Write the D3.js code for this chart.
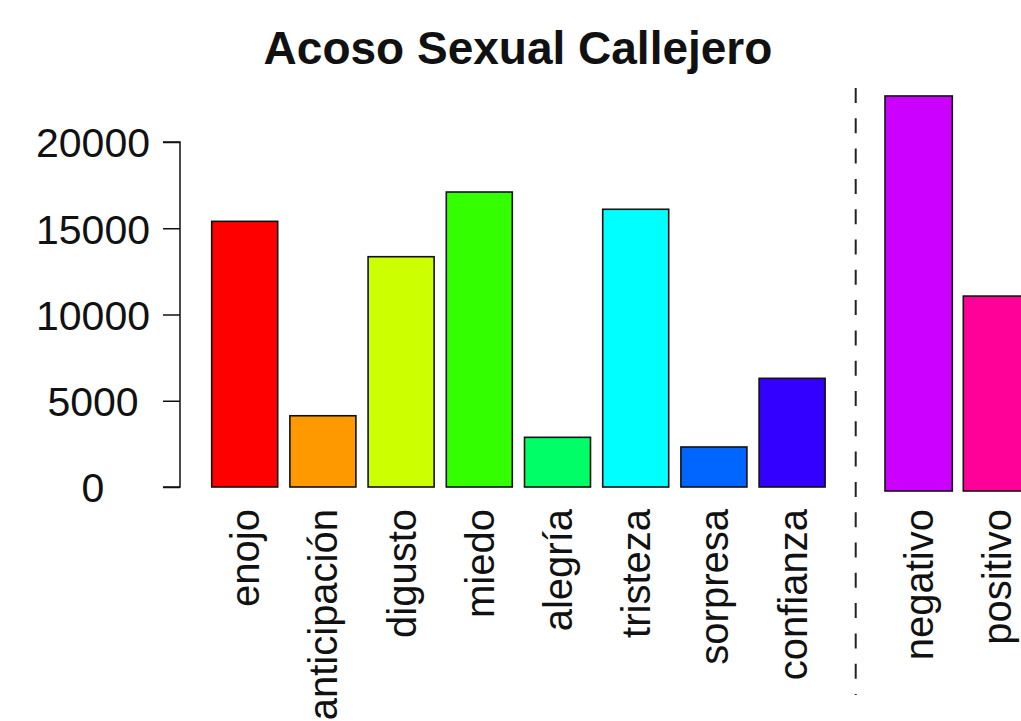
<!DOCTYPE html>
<html>
<head>
<meta charset="utf-8">
<script src="https://cdn.jsdelivr.net/npm/d3@7"></script>
<style>
  html, body { margin: 0; padding: 0; background: #fff; }
  svg { display: block; font-family: "Liberation Sans", Arial, sans-serif; }
</style>
</head>
<body>
<svg id="chart" width="1021" height="721"></svg>
<script>
// ---- data ----
const title = "Acoso Sexual Callejero";
const emotions = ["enojo", "anticipación", "digusto", "miedo", "alegría", "tristeza", "sorpresa", "confianza"];
const emotionValues = [15400, 4130, 13350, 17100, 2880, 16100, 2320, 6300];
const emotionColors = ["#FF0000", "#FF9900", "#CCFF00", "#33FF00", "#00FF66", "#00FFFF", "#0066FF", "#3300FF"];
const sentiments = ["negativo", "positivo"];
const sentimentValues = [22900, 11300];
const sentimentColors = ["#CC00FF", "#FF0099"];
const yTicks = [0, 5000, 10000, 15000, 20000];

// ---- layout ----
const svg = d3.select("#chart");
const fontSize = 40;

const yL = d3.scaleLinear().domain([0, 20000]).range([487, 142]);
const yR = d3.scaleLinear().domain([0, 20000]).range([491, 146]);

const xL = d3.scaleBand().domain(emotions)
  .range([211.7, 211.7 + 7 * 78.2 + 66]).paddingInner(12.2 / 78.2).paddingOuter(0);
const xR = d3.scaleBand().domain(sentiments)
  .range([885, 885 + 78.3 + 67.3]).paddingInner(11 / 78.3).paddingOuter(0);

// title
svg.append("text")
  .attr("x", 518).attr("y", 64)
  .attr("text-anchor", "middle")
  .attr("font-weight", "bold")
  .attr("font-size", 46)
  .attr("fill", "#111")
  .text(title);

// y axis
const yAxis = d3.axisLeft(yL).tickValues(yTicks).tickSize(17).tickPadding(0).tickFormat(d3.format("d"));
const gy = svg.append("g").attr("transform", "translate(180,0)").call(yAxis);
gy.select(".domain").attr("stroke", "#111").attr("stroke-width", 1.5)
  .attr("d", `M-17,${yL(20000)}H0V${yL(0)}H-17`);
gy.selectAll(".tick line").attr("stroke", "#111").attr("stroke-width", 1.5);
gy.selectAll(".tick text")
  .attr("x", -87).attr("dy", "0.36em")
  .attr("text-anchor", "middle")
  .attr("font-size", 41)
  .attr("font-family", "Liberation Sans, Arial, sans-serif")
  .attr("fill", "#111");

// left bars
svg.append("g").selectAll("rect").data(emotions).join("rect")
  .attr("x", d => xL(d))
  .attr("width", xL.bandwidth())
  .attr("y", (d, i) => yL(emotionValues[i]))
  .attr("height", (d, i) => yL(0) - yL(emotionValues[i]))
  .attr("fill", (d, i) => emotionColors[i])
  .attr("stroke", "#111").attr("stroke-width", 1.6);

// right bars
svg.append("g").selectAll("rect").data(sentiments).join("rect")
  .attr("x", d => xR(d))
  .attr("width", xR.bandwidth())
  .attr("y", (d, i) => yR(sentimentValues[i]))
  .attr("height", (d, i) => yR(0) - yR(sentimentValues[i]))
  .attr("fill", (d, i) => sentimentColors[i])
  .attr("stroke", "#111").attr("stroke-width", 1.6);

// x labels
function labels(scale, names) {
  svg.append("g").selectAll("text").data(names).join("text")
    .attr("transform", d => `translate(${scale(d) + scale.bandwidth() / 2},509) rotate(-90)`)
    .attr("dy", "0.36em")
    .attr("text-anchor", "end")
    .attr("font-size", fontSize)
    .attr("fill", "#111")
    .text(d => d);
}
labels(xL, emotions);
labels(xR, sentiments);

// dashed separator
svg.append("line")
  .attr("x1", 855.7).attr("x2", 855.7)
  .attr("y1", 88).attr("y2", 695)
  .attr("stroke", "#222").attr("stroke-width", 2)
  .attr("stroke-dasharray", "15,15.3");
</script>
</body>
</html>
